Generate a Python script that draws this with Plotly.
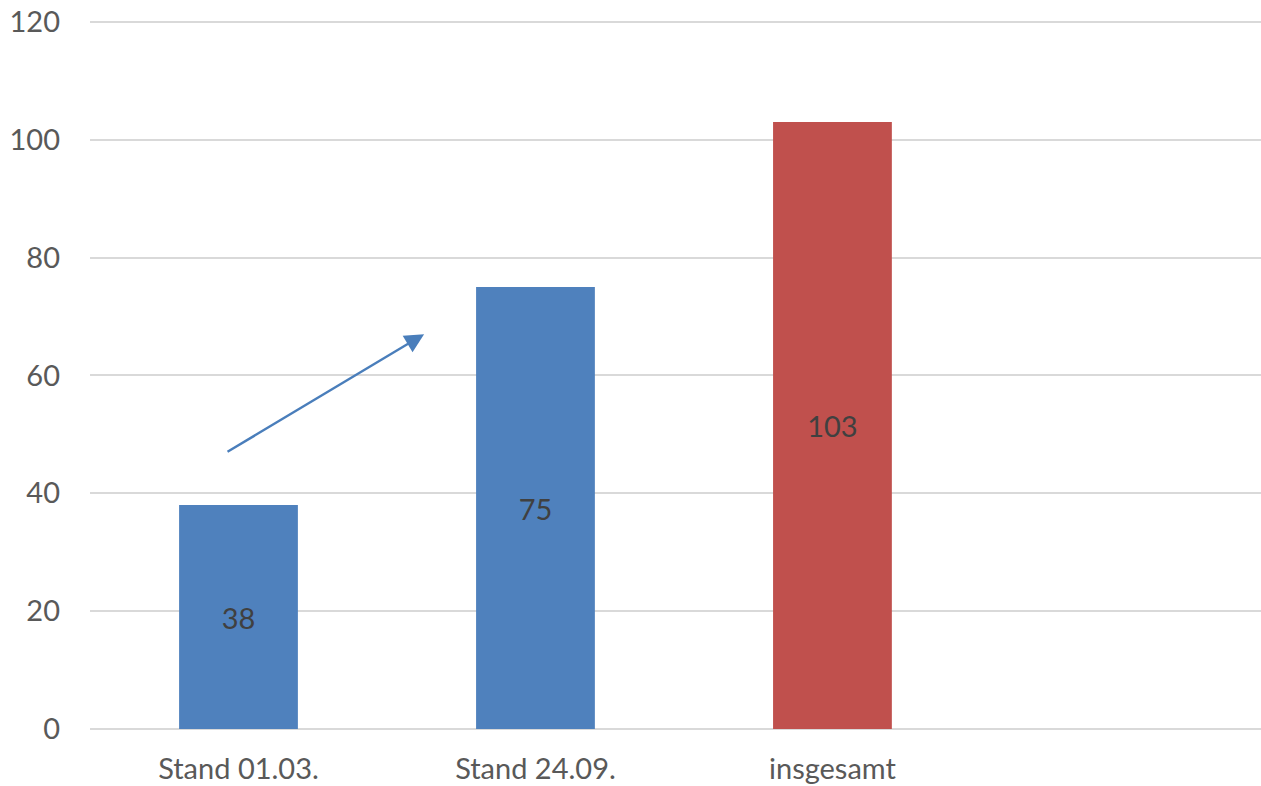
import plotly.graph_objects as go

categories = ["Stand 01.03.", "Stand 24.09.", "insgesamt"]
values = [38, 75, 103]
bar_colors = ["#4F81BD", "#4F81BD", "#C0504D"]
y_ticks = [0, 20, 40, 60, 80, 100, 120]

# arrow (data coordinates): from tail to head
arrow_tail = (-0.042, 46.9)
arrow_head = (0.625, 67.0)

FONT = "Lato"
FS = 29

fig = go.Figure()
fig.add_trace(go.Bar(
    x=categories,
    y=values,
    marker=dict(color=bar_colors, line=dict(width=0)),
    width=0.4,
    text=values,
    texttemplate="%{text}",
    textposition="inside",
    insidetextanchor="middle",
    textfont=dict(family=FONT, size=FS, color="#404040"),
    hoverinfo="skip",
))

fig.add_annotation(
    x=arrow_head[0], y=arrow_head[1],
    ax=arrow_tail[0], ay=arrow_tail[1],
    xref="x", yref="y", axref="x", ayref="y",
    text="", showarrow=True,
    arrowhead=2, arrowsize=1.6, arrowwidth=2.4,
    arrowcolor="#4A7EBB",
)

fig.update_layout(
    width=1261, height=786,
    margin=dict(l=90, r=0, t=19, b=57, autoexpand=False),
    paper_bgcolor="white", plot_bgcolor="white",
    showlegend=False,
    hovermode=False,
    font=dict(family=FONT, size=FS, color="#595959"),
    xaxis=dict(
        type="category",
        categoryorder="array",
        categoryarray=categories,
        range=[-0.5, 3.443],
        showgrid=False,
        showline=False,
        zeroline=False,
        ticks="",
        ticklabelstandoff=20,
        tickfont=dict(family=FONT, size=FS, color="#595959"),
        fixedrange=True,
    ),
    yaxis=dict(
        range=[0, 120.5],
        tickvals=y_ticks,
        showgrid=True,
        gridcolor="#D9D9D9",
        gridwidth=1.5,
        zeroline=True,
        zerolinecolor="#D9D9D9",
        zerolinewidth=1.5,
        showline=False,
        ticks="",
        ticklabelstandoff=29,
        ticklabeloverflow="allow",
        tickfont=dict(family=FONT, size=FS, color="#595959"),
        fixedrange=True,
    ),
)

fig.write_html(
    "out.html",
    config={"displayModeBar": False},
    post_script="document.body.style.margin='0';document.body.style.overflow='hidden';",
)
